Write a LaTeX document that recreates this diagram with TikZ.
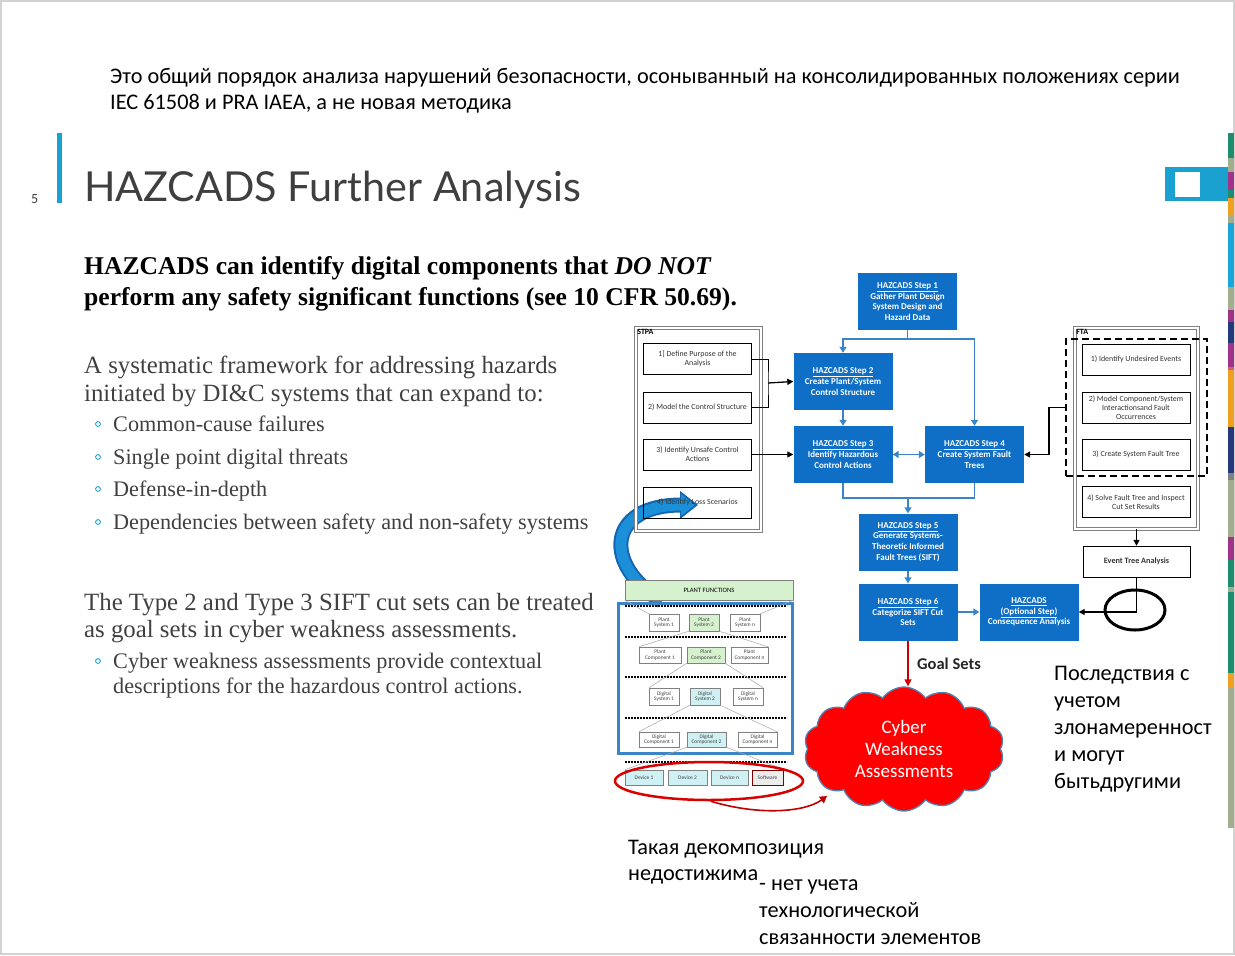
\documentclass[tikz,border=0pt]{standalone}
\usepackage{fontspec}
\setmainfont{Carlito}
\newfontfamily\serifface{Liberation Serif}
\newfontfamily\titleface{Lato}
\usepackage{tikz}
\usetikzlibrary{arrows.meta,shapes,positioning,calc}
\definecolor{hzblue}{HTML}{0F6FC6}
\definecolor{lineblue}{HTML}{3A85C8}
\definecolor{barcyan}{HTML}{1BA1D0}
\definecolor{titlegray}{HTML}{3F3F3F}
\definecolor{bodygray}{HTML}{404040}
\definecolor{pfgreen}{HTML}{D6F1CE}
\definecolor{dgcyan}{HTML}{CFF1F4}
\definecolor{arcblue}{HTML}{1C8FD9}
\definecolor{arcedge}{HTML}{1565B0}
\definecolor{stteal}{HTML}{1E8C6E}
\definecolor{stsage}{HTML}{A3AE8F}
\definecolor{stpurple}{HTML}{A03289}
\definecolor{storange}{HTML}{F0A020}
\definecolor{stcyan}{HTML}{19A6DA}
\definecolor{stnavy}{HTML}{233A7A}
\definecolor{stpink}{HTML}{D06080}

\begin{document}
\begin{tikzpicture}[x=1pt, y=-1pt,
  stepbox/.style={fill=hzblue, text=white, minimum width=99pt, minimum height=57pt, align=center, inner sep=1pt, font=\bfseries\fontsize{9}{10.6}\selectfont},
  subbox/.style={draw, fill=white, minimum width=108pt, minimum height=31pt, align=center, inner sep=1pt, font=\fontsize{7.9}{9}\selectfont, text=black!80},
  tinybox/.style={draw=gray, fill=white, minimum height=16pt, align=center, inner sep=0.3pt, font=\fontsize{5.4}{5.8}\selectfont, text=black!75},
  arr/.style={-{Triangle[length=6pt,width=6pt]}, line width=1.3pt},
  barr/.style={-{Triangle[length=6pt,width=7pt]}, line width=1.6pt, draw=lineblue, color=lineblue},
  bline/.style={line width=1.6pt, draw=lineblue},
  fan/.style={draw=gray!70, line width=0.5pt},
  sep/.style={line width=1.4pt, dash pattern=on 2pt off 1pt},
  txt/.style={anchor=base west, inner sep=0pt},
  hdr/.style={txt, font=\fontsize{22.3}{26}\selectfont},
  body/.style={txt, text=bodygray, font=\serifface\fontsize{24.8}{28}\selectfont},
  item/.style={txt, text=bodygray, font=\serifface\fontsize{22.2}{26}\selectfont},
  dot/.style={draw=barcyan, line width=0.9pt},
]
\useasboundingbox (0,0) rectangle (1235,956);
\draw[gray!35, line width=1.5pt] (1,1) rectangle (1234,954);

% note at the top
\node[hdr] (hdrA) at (110,83) {Это общий порядок анализа нарушений безопасности, осоныванный на консолидированных положениях серии};
\node[hdr] (hdrB) at (110,109) {IEC 61508 и PRA IAEA, а не новая методика};

% slide title
\fill[barcyan] (57,133) rectangle (62,203);
\node[txt, text=titlegray, font=\fontsize{14}{16}\selectfont] (slideno) at (31,203) {5};
\node[txt, text=titlegray, font=\titleface\fontsize{41.3}{50}\selectfont] (title) at (84,201) {HAZCADS Further Analysis};
\fill[barcyan] (1165,167) rectangle (1228,201);
\fill[white] (1175,172) rectangle (1200,197);
\foreach \ya/\yb/\cc in {133/158/stteal, 158/172/stsage, 172/190/stpurple, 190/198/stteal, 198/215/storange,
  215/223/stsage, 223/287/stcyan, 287/310/stsage, 310/322/stpurple, 322/343/stnavy, 343/367/stpurple,
  367/370/stpink, 370/427/storange, 427/473/stnavy, 473/480/gray, 480/537/stsage, 537/560/stpurple,
  560/587/stteal, 587/592/stsage, 592/673/stteal, 673/687/storange, 687/828/stsage}
  \fill[\cc] (1228,\ya) rectangle (1234,\yb);

% left column
\node[txt, font=\serifface\bfseries\fontsize{25.6}{28}\selectfont] (boldA) at (84,274) {HAZCADS can identify digital components that \textit{DO NOT}};
\node[txt, font=\serifface\bfseries\fontsize{25.6}{28}\selectfont] (boldB) at (84,305) {perform any safety significant functions (see 10 CFR 50.69).};
\node[body] (sysA) at (84,373) {A systematic framework for addressing hazards};
\node[body] (sysB) at (84,401) {initiated by DI\&C systems that can expand to:};
\node[item] (itemA) at (113,431) {Common-cause failures};
\node[item] (itemB) at (113,464) {Single point digital threats};
\node[item] (itemC) at (113,496) {Defense-in-depth};
\node[item] (itemD) at (113,529) {Dependencies between safety and non-safety systems};
\node[body] (typeA) at (84,610) {The Type 2 and Type 3 SIFT cut sets can be treated};
\node[body] (typeB) at (84,637) {as goal sets in cyber weakness assessments.};
\node[item] (cwA) at (113,668) {Cyber weakness assessments provide contextual};
\node[item] (cwB) at (113,693) {descriptions for the hazardous control actions.};
\foreach \yy in {424,457,489,522,661}
  \draw[dot] (98,\yy) circle (2.4pt);

% HAZCADS steps
\node[stepbox] (step1) at (907.5,301.5) {\underline{HAZCADS Step 1}\\Gather Plant Design\\System Design and\\Hazard Data};
\node[stepbox] (step2) at (843,381.5) {\underline{HAZCADS Step 2}\\Create Plant/System\\Control Structure};
\node[stepbox] (step3) at (843,454.5) {\underline{HAZCADS Step 3}\\Identify Hazardous\\Control Actions};
\node[stepbox] (step4) at (974.5,454.5) {\underline{HAZCADS Step 4}\\Create System Fault\\Trees};
\node[stepbox] (step5) at (908,542) {\underline{HAZCADS Step 5}\\Generate Systems-\\Theoretic Informed\\Fault Trees (SIFT)};
\node[stepbox] (step6) at (908,612) {\underline{HAZCADS Step 6}\\Categorize SIFT Cut\\Sets};
\node[stepbox] (optc) at (1029,612) {\underline{HAZCADS}\\\underline{(Optional Step)}\\Consequence Analysis};

\coordinate (topbus) at (907.5,339);
\coordinate (midbus) at (908,498);
\draw[bline] (step1.south) -- (topbus);
\draw[barr] (topbus) -| (step2.north);
\draw[barr] (topbus) -| (step4.north);
\draw[barr] (step2) -- (step3);
\draw[barr, {Triangle[length=6pt,width=7pt]}-{Triangle[length=6pt,width=7pt]}] (step3) -- (step4);
\draw[bline] (step3.south) |- (midbus) -| (step4.south);
\draw[barr] (midbus) -- (step5.north);
\draw[barr] (step5) -- (step6);
\draw[barr] (step6) -- (optc);

% big curved arrow from loss scenarios to plant functions
\coordinate (bA) at (662,601);
\coordinate (bB) at (698,505);
\draw[arcedge, line width=15pt, -{Triangle[length=18pt,width=27pt]}] (bA) .. controls (602,565) and (607,505) .. (bB);
\draw[arcblue, line width=11pt, -{Triangle[length=14pt,width=21pt]}] (bA) .. controls (602,565) and (607,505) .. ($(bB)+(-3,0)$);

% STPA
\node[draw=gray, double, double distance=1.6pt, line width=0.8pt, minimum width=125pt, minimum height=203pt] (stpa) at (698.5,429.5) {};
\node[anchor=north west, inner sep=1.5pt, font=\bfseries\fontsize{8}{8}\selectfont] (stpalbl) at (stpa.north west) {STPA};
\node[subbox] (s1) at (697.5,359) {1] Define Purpose of the\\Analysis};
\node[subbox] (s2) at (697.5,407.5) {2) Model the Control Structure};
\node[subbox] (s3) at (697.5,454.5) {3) Identify Unsafe Control\\Actions};
\node[subbox, fill=none] (s4) at (697.5,502.5) {4) Identify Loss Scenarios};
\coordinate (stpaJ) at (768,383);
\draw[line width=1pt] (s1.east) -| (stpaJ) |- (s2.east);
\draw[arr] (stpaJ) -- (step2.west);
\draw[arr] (s3.east) -- (step3.west);

% FTA
\node[draw=gray, double, double distance=1.6pt, line width=0.8pt, minimum width=123pt, minimum height=201pt] (fta) at (1136.5,428.5) {};
\node[anchor=north west, inner sep=1.5pt, font=\bfseries\fontsize{8}{8}\selectfont] (ftalbl) at (fta.north west) {FTA};
\node[draw, line width=1.3pt, dash pattern=on 7pt off 4pt, minimum width=141pt, minimum height=137pt] (ftadash) at (1136.5,407.5) {};
\node[subbox] (f1) at (1136,359.5) {1) Identify Undesired Events};
\node[subbox] (f2) at (1136,407.5) {2) Model Component/System\\Interactionsand Fault\\Occurrences};
\node[subbox] (f3) at (1136,454.5) {3) Create System Fault Tree};
\node[subbox] (f4) at (1136,502) {4) Solve Fault Tree and Inspect\\Cut Set Results};
\node[subbox, minimum width=107pt, font=\bfseries\fontsize{8.2}{9}\selectfont] (eta) at (1136.5,561.5) {Event Tree Analysis};
\coordinate (ftaJ) at (1049,408);
\draw[arr] (ftadash.west) -| (ftaJ) |- (step4.east);
\draw[arr] (fta.south) -- (eta.north);
\draw[arr] (eta.south) |- (optc.east);
\node[draw, ellipse, line width=3pt, minimum width=60pt, minimum height=40pt] (ring) at (1135,610) {};

% cyber weakness cloud
\node[cloud, cloud puffs=14, cloud puff arc=110, aspect=1.6, fill=red, draw=lineblue!70!gray, line width=1.3pt,
  minimum width=200pt, minimum height=124pt, text=white, align=center, font=\fontsize{19}{22}\selectfont] (cloud) at (904,749) {Cyber\\Weakness\\Assessments};
\draw[-{Triangle[length=7pt,width=7pt]}, line width=1.4pt, red!80!black] (step6.south) -- (step6.south |- cloud.north);
\node[anchor=west, inner sep=0pt, font=\bfseries\fontsize{16.5}{18}\selectfont, text=black!85] (goal) at (917,664) {Goal Sets};

% decomposition of plant functions
\node[draw=gray, fill=pfgreen, minimum width=168pt, minimum height=20pt, font=\fontsize{6.6}{7}\selectfont] (pf) at (709,590) {PLANT FUNCTIONS};
\node[draw=lineblue, line width=3pt, minimum width=174pt, minimum height=150pt] (decomp) at (705.5,678.5) {};
\foreach \yy in {606,637,677,718,762}
  \draw[sep] (625,\yy) -- (787,\yy);
\node[tinybox, minimum width=30pt, minimum height=17pt] (ps1) at (664,622.5) {Plant\\System 1};
\node[tinybox, minimum width=30pt, minimum height=17pt, fill=pfgreen] (ps2) at (704,622.5) {Plant\\System 2};
\node[tinybox, minimum width=30pt, minimum height=17pt] (psn) at (745,622.5) {Plant\\System n};
\node[tinybox, minimum width=42pt] (pc1) at (660,655) {Plant\\Component 1};
\node[tinybox, minimum width=38pt, fill=pfgreen] (pc2) at (706,655) {Plant\\Component 2};
\node[tinybox, minimum width=37pt] (pcn) at (749.5,655) {Plant\\Component n};
\node[tinybox, minimum width=30pt, minimum height=17pt] (ds1) at (664,696.5) {Digital\\System 1};
\node[tinybox, minimum width=30pt, minimum height=17pt, fill=dgcyan] (ds2) at (705,696.5) {Digital\\System 2};
\node[tinybox, minimum width=30pt, minimum height=17pt] (dsn) at (748,696.5) {Digital\\System n};
\node[tinybox, minimum width=40pt, minimum height=15pt] (dc1) at (659,739.5) {Digital\\Component 1};
\node[tinybox, minimum width=39pt, minimum height=15pt, fill=dgcyan] (dc2) at (706.5,739.5) {Digital\\Component 2};
\node[tinybox, minimum width=39pt, minimum height=15pt] (dcn) at (757.5,739.5) {Digital\\Component n};
\node[tinybox, minimum width=38pt, minimum height=15pt, fill=dgcyan] (dv1) at (644,777.5) {Device 1};
\node[tinybox, minimum width=39pt, minimum height=15pt, fill=dgcyan] (dv2) at (687.5,777.5) {Device 2};
\node[tinybox, minimum width=37pt, minimum height=15pt, fill=dgcyan] (dvn) at (729.5,777.5) {Device n};
\node[tinybox, minimum width=31pt, minimum height=15pt, fill=gray!15, draw=red!50!black, line width=1pt] (sw) at (767.5,777.5) {Software};
\draw[fan] (pf.south west) -- (ps1.north west);
\draw[fan] (pf.south east) -- (psn.north east);
\draw[fan] (ps2.south west) -- (pc1.north west);
\draw[fan] (ps2.south east) -- (pcn.north east);
\draw[fan] (pc2.south west) -- (ds1.north west);
\draw[fan] (pc2.south east) -- (dsn.north east);
\draw[fan] (ds2.south west) -- (dc1.north west);
\draw[fan] (ds2.south east) -- (dcn.north east);
\draw[fan] (dc2.south west) -- (dv1.north west);
\draw[fan] (dc2.south east) -- (sw.north east);
\node[draw=red!85!black, ellipse, line width=2.5pt, minimum width=188pt, minimum height=38pt] (rring) at (709,781) {};
\coordinate (cwend) at (827,796);
\draw[-{Triangle[length=7pt,width=8pt]}, line width=1.6pt, red!75!black] (rring.-85) .. controls (760,816) and (805,812) .. (cwend);

% remarks at the bottom
\node[hdr] (decA) at (628,854) {Такая декомпозиция};
\node[hdr] (decB) at (628,880) {недостижима};
\node[hdr] (netA) at (759,890) {- нет учета};
\node[hdr] (netB) at (759,917) {технологической};
\node[hdr] (netC) at (759,944) {связанности элементов};
\node[hdr] (conA) at (1054,680) {Последствия с};
\node[hdr] (conB) at (1054,707) {учетом};
\node[hdr] (conC) at (1054,734) {злонамеренност};
\node[hdr] (conD) at (1054,761) {и могут};
\node[hdr] (conE) at (1054,788) {бытьдругими};
\end{tikzpicture}
\end{document}
